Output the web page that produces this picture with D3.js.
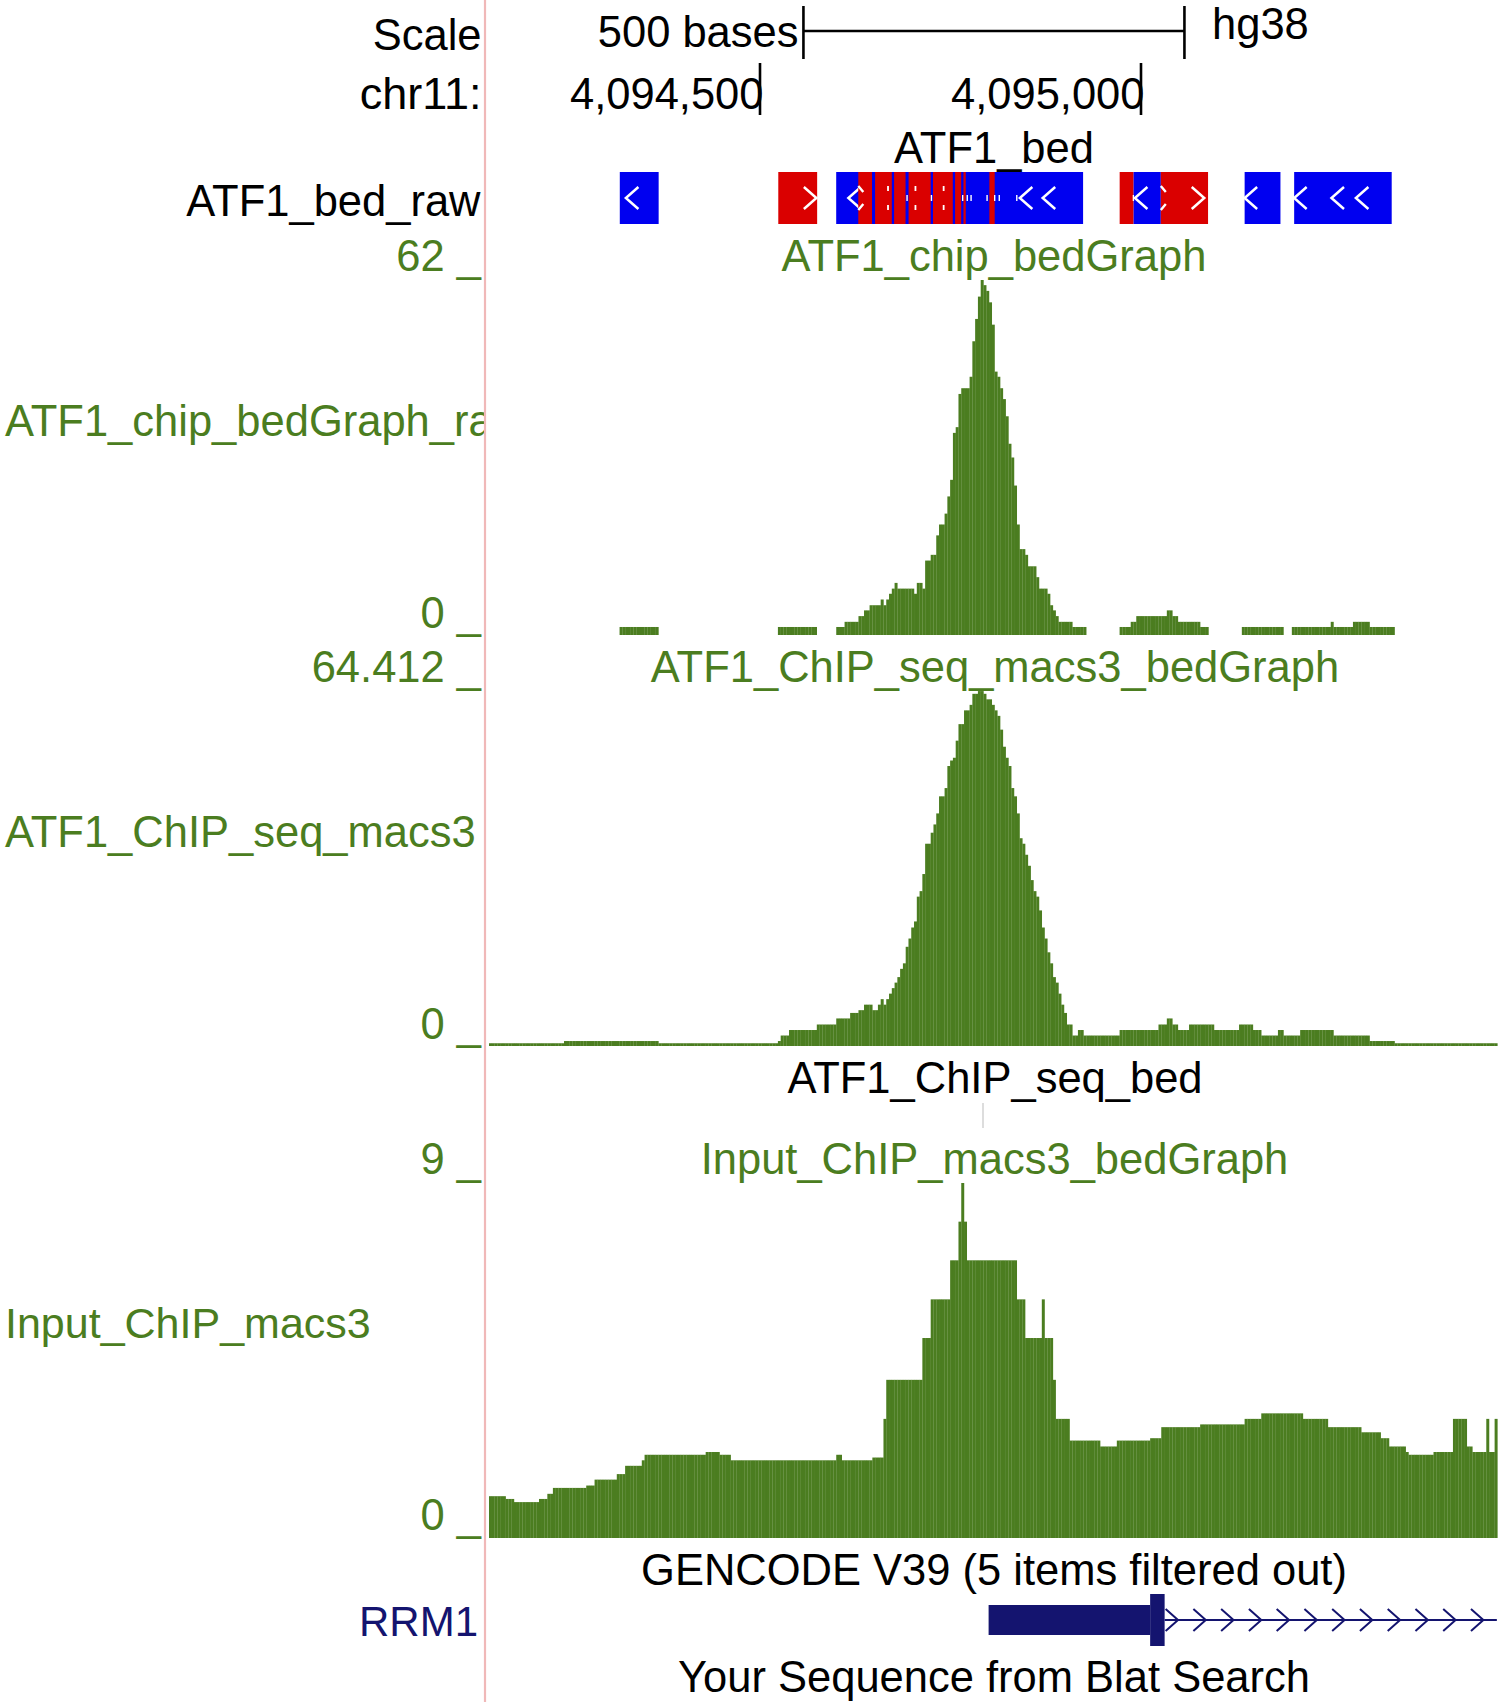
<!DOCTYPE html>
<html>
<head>
<meta charset="utf-8">
<script src="https://cdn.jsdelivr.net/npm/d3@7/dist/d3.min.js"></script>
<style>
  html, body { margin: 0; padding: 0; background: #fff; }
  svg { display: block; }
  text { font-family: "Liberation Sans", Arial, sans-serif; font-size: 43.5px; }
</style>
</head>
<body>
<div id="chart"></div>
<script>
// === Track data ===
const binCount = 363;

// ATF1_chip_bedGraph: only covered stretches, start bin + values per bin
const chipStarts = [47, 104, 125, 227, 271, 289];
const chipValues = [
    [1.4,1.4,1.4,1.4,1.4,1.4,1.4,1.4,1.4,1.4,1.4,1.4,1.4,1.4],
    [1.4,1.4,1.4,1.4,1.4,1.4,1.4,1.4,1.4,1.4,1.4,1.4,1.4,1.4],
    [1.4,1.4,1.4,2.3,2.3,2.3,2.3,2.3,3.3,3.3,4.3,4.3,5.2,5.2,5.2,5.2,6.2,5.2,6.2,7.2,8.1,9.1,
     8.1,8.1,8.1,8.1,8.1,8.1,7.2,9.1,9.1,8.1,13,13,14,14,17.4,19.3,19.3,21.2,24.2,27.1,35.3,36.3,
     42.1,43.1,43.1,43.1,45.1,51.3,55.2,59.1,62,61.1,60.1,58.1,54.2,46,45.1,43.1,41.2,38.2,33.4,31,
     26.1,19.3,15,15,14,12,12,12,10.1,8.1,8.1,8.1,7.2,5.2,4.3,3.3,2.3,2.3,2.3,2.3,2.3,1.4,1.4,1.4,1.4,1.4],
    [1.4,1.4,1.4,1.4,2.3,2.3,3.3,3.3,3.3,3.3,3.3,3.3,3.3,3.3,3.3,3.3,3.3,4.3,4.3,3.3,3.3,
     2.3,2.3,2.3,2.3,2.3,2.3,2.3,2.3,1.4,1.4,1.4],
    [1.4,1.4,1.4,1.4,1.4,1.4,1.4,1.4,1.4,1.4,1.4,1.4,1.4,1.4,1.4],
    [1.4,1.4,1.4,1.4,1.4,1.4,1.4,1.4,1.4,1.4,1.4,1.4,1.4,1.4,2.3,1.4,1.4,1.4,1.4,1.4,1.4,1.4,
     2.3,2.3,2.3,2.3,2.3,2.3,1.4,1.4,1.4,1.4,1.4,1.4,1.4,1.4,1.4]
];

// ATF1_ChIP_seq_macs3_bedGraph, one value per bin
const macsValues = [
    0.5,0.5,0.5,0.5,0.5,0.5,0.5,0.5,0.5,0.5,0.5,0.5,0.5,0.5,0.5,0.5,0.5,0.5,0.5,0.5,0.5,0.5,0.5,0.5,0.5,0.5,0.5,
    0.9,0.9,0.9,0.9,0.9,0.9,0.9,0.9,0.9,0.9,0.9,0.9,0.9,0.9,0.9,0.9,0.9,0.9,0.9,0.9,0.9,0.9,0.9,0.9,0.9,0.9,0.9,0.9,0.9,0.9,0.9,0.9,0.9,0.9,
    0.5,0.5,0.5,0.5,0.5,0.5,0.5,0.5,0.5,0.5,0.5,0.5,0.5,0.5,0.5,0.5,0.5,0.5,0.5,0.5,0.5,0.5,0.5,0.5,0.5,0.5,0.5,0.5,0.5,0.5,0.5,0.5,0.5,0.5,0.5,0.5,0.5,0.5,0.5,0.5,0.5,0.5,0.5,
    0.9,1.9,1.9,1.9,2.9,2.9,2.9,2.9,2.9,2.9,2.9,2.9,2.9,2.9,3.9,3.9,3.9,3.9,3.9,3.9,3.9,5,5,5,5,5,6,6,6,6.5,6.5,7.5,7.5,7.5,6.5,6.5,
    7.5,8.5,7.5,8.5,9.5,10.5,11.5,12.5,14,15,18,19.5,21.5,22.6,27.1,28.1,31.2,36.7,36.7,38.7,40.2,42.2,45.3,45.3,46.8,50.8,51.8,52.3,
    55.4,58.4,58.4,60.9,60.9,61.9,63.9,63.9,64.4,64.4,63.9,62.9,62.9,61.9,60.9,59.9,57.4,54.3,52.3,50.8,46.8,45.3,42.2,37.7,36.7,34.7,32.7,30.1,28.1,27.1,
    24.6,21.5,19.5,17,15,12.5,11.5,9.5,7.5,6,3.9,3.9,1.9,1.9,2.9,2.9,
    1.9,1.9,1.9,1.9,1.9,1.9,1.9,1.9,1.9,1.9,1.9,1.9,1.9,
    2.9,2.9,2.9,2.9,2.9,2.9,2.9,2.9,2.9,2.9,2.9,2.9,2.9,2.9,
    3.9,3.9,3.9,5,5,3.9,3.9,2.9,2.9,2.9,2.9,3.9,3.9,3.9,3.9,3.9,3.9,3.9,3.9,3.9,
    2.9,2.9,2.9,2.9,2.9,2.9,2.9,2.9,2.9,3.9,3.9,3.9,3.9,3.9,2.9,2.9,2.9,1.9,1.9,1.9,1.9,1.9,1.9,2.9,2.9,1.9,1.9,1.9,1.9,1.9,1.9,
    2.9,2.9,2.9,2.9,2.9,2.9,2.9,2.9,2.9,2.9,2.9,2.9,
    1.9,1.9,1.9,1.9,1.9,1.9,1.9,1.9,1.9,1.9,1.9,1.9,1.9,
    0.9,0.9,0.9,0.9,0.9,0.9,0.9,0.9,0.9,
    0.5,0.5,0.5,0.5,0.5,0.5,0.5,0.5,0.5,0.5,0.5,0.5,0.5,0.5,0.5,0.5,0.5,0.5,0.5,0.5,0.5,0.5,0.5,0.5,0.5,0.5,0.5,0.5,0.5,0.5,0.5,0.5,0.5,0.5,0.5,0.5,0.5
];

// Input_ChIP_macs3_bedGraph, one value per bin
const inputValues = [
    1.06,1.06,1.06,1.06,1.06,1.06,0.99,0.99,0.99,0.91,0.91,0.91,0.91,0.91,0.91,0.91,0.91,0.91,0.99,0.99,0.99,1.12,1.12,
    1.27,1.27,1.27,1.27,1.27,1.27,1.27,1.27,1.27,1.27,1.27,1.27,1.33,1.33,1.33,1.48,1.48,1.48,1.48,1.48,1.48,1.48,1.48,
    1.62,1.62,1.62,1.83,1.83,1.83,1.83,1.83,1.83,1.97,
    2.11,2.11,2.11,2.11,2.11,2.11,2.11,2.11,2.11,2.11,2.11,2.11,2.11,2.11,2.11,2.11,2.11,2.11,2.11,2.11,2.11,2.11,
    2.18,2.18,2.18,2.18,2.18,2.11,2.11,2.11,2.11,
    1.97,1.97,1.97,1.97,1.97,1.97,1.97,1.97,1.97,1.97,1.97,1.97,1.97,1.97,1.97,1.97,1.97,1.97,1.97,
    1.97,1.97,1.97,1.97,1.97,1.97,1.97,1.97,1.97,1.97,1.97,1.97,1.97,1.97,1.97,1.97,1.97,1.97,1.97,
    2.11,2.11,1.97,1.97,1.97,1.97,1.97,1.97,1.97,1.97,1.97,1.97,1.97,2.04,2.04,2.04,2.04,3.02,
    4.01,4.01,4.01,4.01,4.01,4.01,4.01,4.01,4.01,4.01,4.01,4.01,4.01,5.07,5.07,5.07,
    6.05,6.05,6.05,6.05,6.05,6.05,6.05,7.04,7.04,7.04,8.02,9,8.02,
    7.04,7.04,7.04,7.04,7.04,7.04,7.04,7.04,7.04,7.04,7.04,7.04,7.04,7.04,7.04,7.04,7.04,7.04,
    6.05,6.05,6.05,5.07,5.07,5.07,5.07,5.07,5.07,6.05,5.07,5.07,5.07,4.01,3.02,3.02,3.02,3.02,3.02,
    2.47,2.47,2.47,2.47,2.47,2.47,2.47,2.47,2.47,2.47,2.47,2.32,2.32,2.32,2.32,2.32,2.32,
    2.47,2.47,2.47,2.47,2.47,2.47,2.47,2.47,2.47,2.47,2.47,2.47,2.53,2.53,2.53,2.53,
    2.81,2.81,2.81,2.81,2.81,2.81,2.81,2.81,2.81,2.81,2.81,2.81,2.81,2.81,
    2.88,2.88,2.88,2.88,2.88,2.88,2.88,2.88,2.88,2.88,2.88,2.88,2.88,2.88,2.88,2.88,
    3.02,3.02,3.02,3.02,3.02,3.02,3.16,3.16,3.16,3.16,3.16,3.16,3.16,3.16,3.16,3.16,3.16,3.16,3.16,3.16,3.16,
    3.02,3.02,3.02,3.02,3.02,3.02,3.02,3.02,3.02,
    2.81,2.81,2.81,2.81,2.81,2.81,2.81,2.81,2.81,2.81,2.81,2.81,
    2.68,2.68,2.68,2.68,2.68,2.68,2.68,2.53,2.53,2.53,2.32,2.32,2.32,2.32,2.32,2.32,2.18,
    2.11,2.11,2.11,2.11,2.11,2.11,2.11,2.11,2.11,2.18,2.18,2.18,2.18,2.18,2.18,2.18,
    3.02,3.02,3.02,3.02,3.02,2.32,2.32,2.18,2.18,2.18,2.18,2.18,3.02,2.18,2.18,3.02
];

// ATF1_bed items as they show on screen: [chromStart, chromEnd]
const bedMinus = [
    [4094316,4094367],[4094600,4094924],[4094990,4095026],[4095136,4095183],[4095201,4095329]
];
const bedPlus = [
    [4094524,4094575],[4094629,4094647],[4094651,4094673],[4094676,4094691],[4094695,4094724],
    [4094727,4094753],[4094756,4094764],[4094767,4094770],[4094801,4094808],[4094972,4094990],
    [4095026,4095088]
];
const minusChevrons = [4094324,4094616,4094841,4094871,4094992,4095136,4095201,4095250,4095282];
const plusChevrons = [4094574,4095083];
const clippedBrackets = [4094629,4095026];
const clippedArmEnds = [4094668,4094704,4094741];
const clippedTips = [4094693,4094725,4094766,4094772,4094777,4094798,4094808,4094814,4094837,4094990];

// RRM1 gene model, genomic ends of UTR, CDS and intron
const geneUtr = [4094800, 4095012];
const geneCds = [4095012, 4095031];
const geneIntronEnd = 4095467;

const rulerTicks = [4094500, 4095000];
const scaleBarBases = [4094557, 4095057];

const GREEN = '#4b7d20', NAVY = '#14146f', BLUE = '#0000f0', RED = '#da0000';

// === Scales ===
const width = 1500, height = 1702;
const binX = d3.scaleLinear().domain([0, binCount]).range([489, 1497.4]);
const baseX = d3.scaleLinear().domain(rulerTicks).range([760, 1141]);

const svg = d3.select('#chart').append('svg')
    .attr('width', width)
    .attr('height', height);

svg.append('defs').append('clipPath').attr('id', 'left-clip')
    .append('rect').attr('x', 0).attr('y', 0).attr('width', 484).attr('height', height);

function label(txt, x, y, anchor, color) {
    return svg.append('text')
        .attr('x', x).attr('y', y)
        .attr('text-anchor', anchor)
        .attr('fill', color || '#000')
        .text(txt);
}

// === Ruler ===
label('Scale', 481.5, 50, 'end');
label('500 bases', 798.5, 47, 'end');
label('hg38', 1212, 39, 'start');
label('chr11:', 481.5, 109, 'end').style('font-size', '45px');

const tickFormat = d3.format(',');
rulerTicks.forEach(t => {
    label(tickFormat(t), baseX(t) + 3.5, 109, 'end');
    svg.append('line')
        .attr('x1', baseX(t)).attr('x2', baseX(t))
        .attr('y1', 63).attr('y2', 115)
        .attr('stroke', '#000').attr('stroke-width', 2.6);
});

svg.append('line')
    .attr('x1', baseX(scaleBarBases[0])).attr('x2', baseX(scaleBarBases[1]))
    .attr('y1', 31).attr('y2', 31)
    .attr('stroke', '#000').attr('stroke-width', 2.6);
scaleBarBases.forEach(b => {
    svg.append('line')
        .attr('x1', baseX(b)).attr('x2', baseX(b))
        .attr('y1', 6).attr('y2', 59)
        .attr('stroke', '#000').attr('stroke-width', 2.6);
});

// === ATF1_bed track ===
const bedTop = 172, bedBottom = 224, bedMid = 198;
label('ATF1_bed', 994, 163, 'middle');
label('ATF1_bed_raw', 480.5, 216, 'end');

function drawBed(items, color) {
    svg.append('g').selectAll('rect')
        .data(items)
        .join('rect')
        .attr('x', d => baseX(d[0]))
        .attr('y', bedTop)
        .attr('width', d => baseX(d[1]) - baseX(d[0]))
        .attr('height', bedBottom - bedTop)
        .attr('fill', color);
}

function drawChevrons(tips, dir, armX, armY, color, strokeWidth, midY) {
    svg.append('g').selectAll('path')
        .data(tips)
        .join('path')
        .attr('d', tip => `M${tip + dir * armX},${midY - armY}L${tip},${midY}L${tip + dir * armX},${midY + armY}`)
        .attr('fill', 'none')
        .attr('stroke', color)
        .attr('stroke-width', strokeWidth);
}

drawBed(bedMinus, BLUE);
drawChevrons(minusChevrons.map(b => baseX(b)), 1, 12.5, 11, '#fff', 2.5, bedMid);
drawBed(bedPlus, RED);
drawChevrons(plusChevrons.map(b => baseX(b)), -1, 12.5, 11, '#fff', 2.5, bedMid);

// bits of white left over from chevrons that later items painted over
svg.append('g').selectAll('path')
    .data(clippedBrackets)
    .join('path')
    .attr('d', b => {
        const x = baseX(b);
        return `M${x},186L${x + 5},192M${x + 5},204L${x},210`;
    })
    .attr('fill', 'none')
    .attr('stroke', '#fff')
    .attr('stroke-width', 2.4);
svg.append('g').selectAll('line')
    .data(clippedArmEnds.flatMap(b => [[b, 188.5], [b, 207.5]]))
    .join('line')
    .attr('x1', d => baseX(d[0])).attr('x2', d => baseX(d[0]))
    .attr('y1', d => d[1] - 2.5).attr('y2', d => d[1] + 2.5)
    .attr('stroke', '#fff').attr('stroke-width', 1.8);
svg.append('g').selectAll('line')
    .data(clippedTips)
    .join('line')
    .attr('x1', d => baseX(d)).attr('x2', d => baseX(d))
    .attr('y1', bedMid - 3).attr('y2', bedMid + 3)
    .attr('stroke', '#fff').attr('stroke-width', 1.4);

// === Wiggle tracks ===
function drawWiggle(values, startBin, yScale) {
    svg.append('g').selectAll('rect')
        .data(values)
        .join('rect')
        .attr('x', (d, i) => binX(startBin + i))
        .attr('y', d => yScale(d))
        .attr('width', binX(1) - binX(0) + 0.2)
        .attr('height', d => yScale(0) - yScale(d))
        .attr('fill', GREEN);
}

const chipY = d3.scaleLinear().domain([0, 62]).range([635, 280]);
const macsY = d3.scaleLinear().domain([0, 64.412]).range([1046, 691]);
const inputY = d3.scaleLinear().domain([0, 9]).range([1538, 1183]);

chipValues.forEach((vals, k) => drawWiggle(vals, chipStarts[k], chipY));
drawWiggle(macsValues, 0, macsY);
drawWiggle(inputValues, 0, inputY);

label('62 _', 481, 271, 'end', GREEN);
label('ATF1_chip_bedGraph', 994, 271, 'middle', GREEN);
label('ATF1_chip_bedGraph_raw', 5, 436, 'start', GREEN).attr('clip-path', 'url(#left-clip)');
label('0 _', 481, 628, 'end', GREEN);

label('64.412 _', 481, 682, 'end', GREEN);
label('ATF1_ChIP_seq_macs3_bedGraph', 995, 682, 'middle', GREEN);
label('ATF1_ChIP_seq_macs3', 5, 847, 'start', GREEN);
label('0 _', 481, 1039, 'end', GREEN);

label('ATF1_ChIP_seq_bed', 995, 1093, 'middle');
svg.append('line')
    .attr('x1', 983).attr('x2', 983)
    .attr('y1', 1103).attr('y2', 1128)
    .attr('stroke', '#ddd').attr('stroke-width', 2);

label('9 _', 481, 1174, 'end', GREEN);
label('Input_ChIP_macs3_bedGraph', 994.5, 1174, 'middle', GREEN);
label('Input_ChIP_macs3', 5, 1338, 'start', GREEN).style('font-size', '43px');
label('0 _', 481, 1530, 'end', GREEN);

// === GENCODE track ===
label('GENCODE V39 (5 items filtered out)', 994, 1585, 'middle');
label('RRM1', 478, 1636, 'end', NAVY).style('font-size', '42px');

const geneMid = 1620;
svg.append('line')
    .attr('x1', baseX(geneCds[1])).attr('x2', baseX(geneIntronEnd))
    .attr('y1', geneMid).attr('y2', geneMid)
    .attr('stroke', NAVY).attr('stroke-width', 2);
drawChevrons(d3.range(baseX(geneCds[1]) + 13.4, 1497, 27.76), -1, 12.4, 11, NAVY, 2, geneMid);
svg.append('rect')
    .attr('x', baseX(geneUtr[0])).attr('y', 1605)
    .attr('width', baseX(geneUtr[1]) - baseX(geneUtr[0])).attr('height', 30)
    .attr('fill', NAVY);
svg.append('rect')
    .attr('x', baseX(geneCds[0])).attr('y', 1594)
    .attr('width', baseX(geneCds[1]) - baseX(geneCds[0])).attr('height', 52)
    .attr('fill', NAVY);

label('Your Sequence from Blat Search', 994, 1692, 'middle');

// Guideline between labels and data
svg.append('line')
    .attr('x1', 485).attr('x2', 485)
    .attr('y1', 0).attr('y2', height)
    .attr('stroke', '#f0b8b8').attr('stroke-width', 2.2);
</script>
</body>
</html>
